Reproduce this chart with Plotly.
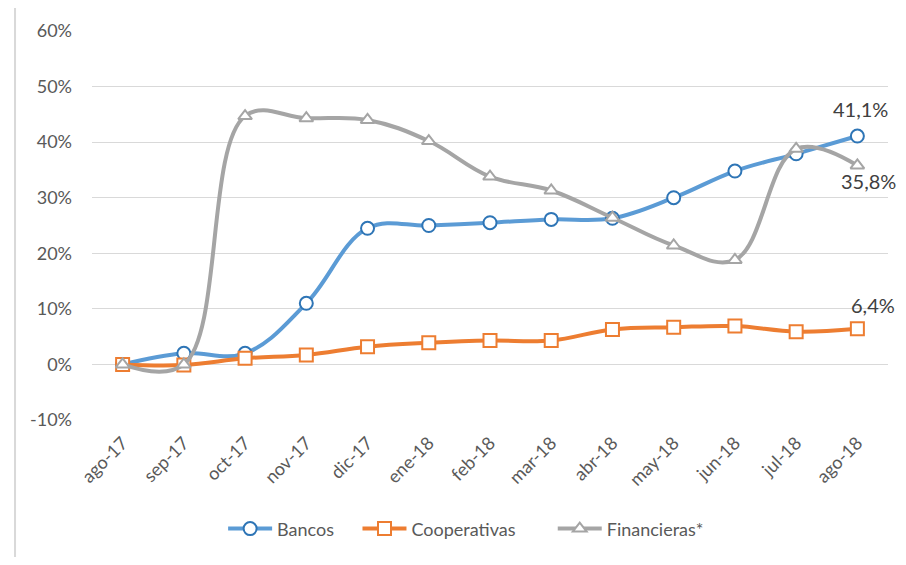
import plotly.graph_objects as go

categories = ["ago-17", "sep-17", "oct-17", "nov-17", "dic-17", "ene-18", "feb-18",
              "mar-18", "abr-18", "may-18", "jun-18", "jul-18", "ago-18"]
bancos = [0.0, 2.0, 2.0, 11.0, 24.5, 25.0, 25.5, 26.1, 26.3, 30.0, 34.8, 37.9, 41.1]
cooperativas = [0.0, -0.1, 1.1, 1.7, 3.2, 3.9, 4.3, 4.3, 6.3, 6.7, 6.9, 5.9, 6.4]
financieras = [0.0, 0.0, 44.7, 44.3, 44.0, 40.2, 33.8, 31.3, 26.4, 21.4, 18.8, 38.8, 35.8]
y_ticks = [-10, 0, 10, 20, 30, 40, 50, 60]

FONT = "Lato, 'Open Sans', sans-serif"
NB = "\u00a0"
fig = go.Figure()

series = [
    ("Bancos" + NB * 4, bancos, "#5B9BD5", "#2E75B6", "circle", 13),
    ("Cooperativas" + NB * 7, cooperativas, "#ED7D31", "#ED7D31", "square", 13),
    ("Financieras*", financieras, "#A5A5A5", "#A5A5A5", "triangle-up", 12),
]
for name, vals, color, mcolor, sym, msize in series:
    fig.add_trace(go.Scatter(
        x=categories, y=vals, name=name, mode="lines+markers",
        line=dict(color=color, width=4, shape="spline", smoothing=1.1),
        marker=dict(symbol=sym, size=msize, color="white", line=dict(color=mcolor, width=2)),
        cliponaxis=False,
    ))

annotations = [
    dict(x="ago-18", y=41.1, text="41,1%", xshift=3, yshift=27),
    dict(x="ago-18", y=35.8, text="35,8%", xshift=11, yshift=-16),
    dict(x="ago-18", y=6.4, text="6,4%", xshift=16, yshift=24),
]
for a in annotations:
    fig.add_annotation(**a, showarrow=False, xref="x", yref="y",
                       font=dict(family=FONT, size=20, color="#404040"))

# outer chart border (left and top edges visible)
fig.add_shape(type="line", xref="paper", yref="paper", x0=-0.0967, x1=-0.0967,
              y0=1.0638, y1=-0.4, line=dict(color="#D9D9D9", width=2))
fig.add_shape(type="line", xref="paper", yref="paper", x0=-0.0967, x1=1.03,
              y0=1.0638, y1=1.0638, line=dict(color="#D9D9D9", width=2))

fig.update_layout(
    width=890, height=549,
    margin=dict(l=84, r=10, t=23, b=134),
    paper_bgcolor="white", plot_bgcolor="white",
    font=dict(family=FONT, color="#595959", size=17),
    showlegend=True,
    legend=dict(orientation="h", x=0.47, xanchor="center", y=-0.28, yanchor="middle",
                font=dict(size=18, color="#595959"), itemwidth=44),
    xaxis=dict(type="category", range=[-0.5, 12.5], tickangle=-45,
               showgrid=False, showline=False, ticks="", ticklabelstandoff=8,
               automargin=False, tickfont=dict(size=18, color="#595959")),
    yaxis=dict(range=[-10, 60], tickvals=y_ticks, ticktext=[f"{v}%" for v in y_ticks],
               showgrid=True, gridcolor="#D9D9D9", gridwidth=1, zeroline=False,
               showline=False, ticks="", ticklabelstandoff=19, automargin=False,
               tickfont=dict(size=18, color="#595959")),
)

fig.write_html("out.html")
